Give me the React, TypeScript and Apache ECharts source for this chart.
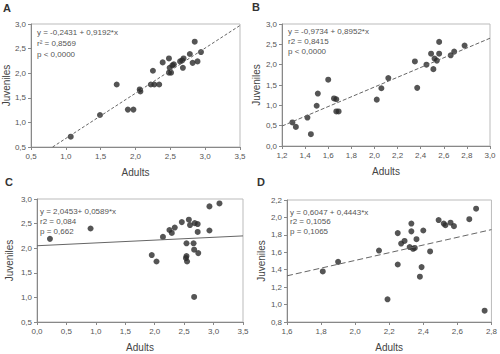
import React, { useEffect, useRef } from "react";
import * as echarts from "echarts";

// Panel A
const adultsA = [1.07, 1.49, 1.73, 1.89, 1.97, 2.06, 2.07, 2.22, 2.27, 2.25, 2.34, 2.39, 2.48, 2.48, 2.51, 2.49, 2.53, 2.55, 2.64, 2.67, 2.69, 2.68, 2.78, 2.82, 2.85, 2.89, 2.94];
const juvA = [0.71, 1.15, 1.77, 1.26, 1.26, 1.67, 1.63, 1.77, 1.77, 2.05, 1.77, 2.22, 2.30, 2.01, 2.01, 2.11, 2.16, 2.18, 2.24, 2.26, 2.30, 2.11, 2.39, 2.21, 2.64, 2.24, 2.43];
const fitA = [[0.81, 0.5], [3.5, 2.97]];
const textA = ["y = -0,2431 + 0,9192*x", "r² = 0,8569", "p < 0,0000"];

// Panel B
const adultsB = [1.29, 1.32, 1.42, 1.45, 1.50, 1.51, 1.60, 1.65, 1.67, 1.67, 1.69, 2.02, 2.06, 2.12, 2.35, 2.37, 2.45, 2.49, 2.51, 2.52, 2.54, 2.56, 2.56, 2.66, 2.69, 2.78];
const juvB = [0.58, 0.47, 0.70, 0.29, 0.99, 1.29, 1.63, 1.17, 1.15, 0.85, 0.85, 1.14, 1.42, 1.67, 2.08, 1.43, 2.00, 2.27, 1.89, 2.15, 2.10, 2.56, 2.27, 2.23, 2.32, 2.47];
const fitB = [[1.2, 0.49], [3.0, 2.65]];
const textB = ["y = -0,9734 + 0,8952*x", "r2 = 0,8415", "p < 0,0000"];

// Panel C
const adultsC = [0.22, 0.91, 1.95, 2.03, 2.14, 2.25, 2.29, 2.34, 2.46, 2.54, 2.54, 2.53, 2.55, 2.58, 2.60, 2.66, 2.67, 2.68, 2.73, 2.73, 2.74, 2.67, 2.93, 2.93, 3.10];
const juvC = [2.19, 2.40, 1.86, 1.73, 2.23, 2.37, 2.31, 2.42, 2.53, 2.10, 1.84, 1.80, 1.73, 2.58, 2.47, 2.10, 1.97, 2.51, 2.49, 2.33, 1.90, 1.01, 2.85, 2.36, 2.91];
const fitC = [[0.0, 2.05], [3.5, 2.25]];
const textC = ["y = 2,0453+ 0,0589*x", "r2 = 0,084", "p = 0,662"];

// Panel D
const adultsD = [1.81, 1.90, 2.14, 2.19, 2.25, 2.25, 2.27, 2.29, 2.32, 2.33, 2.33, 2.34, 2.35, 2.36, 2.38, 2.39, 2.40, 2.44, 2.49, 2.52, 2.53, 2.56, 2.58, 2.67, 2.71, 2.76];
const juvD = [1.38, 1.49, 1.62, 1.06, 1.82, 1.46, 1.70, 1.73, 1.66, 1.84, 1.93, 1.64, 1.65, 1.75, 1.32, 1.43, 1.85, 1.61, 1.97, 1.93, 1.91, 1.94, 1.90, 1.98, 2.10, 0.93];
const fitD = [[1.6, 1.33], [2.8, 1.86]];
const textD = ["y = 0,6047 + 0,4443*x", "r2 = 0,1056", "p = 0,1065"];

const panelLetters = ["A", "B", "C", "D"];
const xTitle = "Adults";
const yTitle = "Juveniles";

const zip = (a: number[], b: number[]) => a.map((v, i) => [v, b[i]]);
const fmt = (v: number) => v.toFixed(1).replace(".", ",");

export default function App() {
  const ref = useRef<HTMLDivElement>(null);
  useEffect(() => {
    if (!ref.current) return;
    const chart = echarts.init(ref.current, undefined, { renderer: "svg" });
    const grids = [
      { left: 31, top: 24, width: 209, height: 123 },
      { left: 282, top: 24, width: 208, height: 122 },
      { left: 37, top: 199, width: 206, height: 123 },
      { left: 287, top: 200, width: 205, height: 122 },
    ];
    const xr = [
      { min: 0.5, max: 3.5, interval: 0.5 },
      { min: 1.2, max: 3.0, interval: 0.2 },
      { min: 0.0, max: 3.5, interval: 0.5 },
      { min: 1.6, max: 2.8, interval: 0.2 },
    ];
    const yr = [
      { min: 0.5, max: 3.0, interval: 0.5 },
      { min: 0.0, max: 3.0, interval: 0.5 },
      { min: 0.5, max: 3.0, interval: 0.5 },
      { min: 0.8, max: 2.2, interval: 0.2 },
    ];
    const yGaps = [18, 19, 23, 21];
    const labelStyle = { color: "#555", fontSize: 8, fontFamily: "Liberation Sans, Arial, sans-serif" };
    const nameStyle = { color: "#444", fontSize: 10, fontFamily: "Liberation Sans, Arial, sans-serif" };
    const axisLine = { show: true, lineStyle: { color: "#888", width: 1 } };
    const axisTick = { show: true, length: 3, lineStyle: { color: "#888" } };

    const xAxis = xr.map((r, i) => ({
      type: "value",
      gridIndex: i,
      ...r,
      name: xTitle,
      nameLocation: "middle",
      nameGap: 20,
      nameTextStyle: nameStyle,
      axisLine,
      axisTick,
      splitLine: { show: false },
      axisLabel: { ...labelStyle, margin: 5, formatter: fmt },
    }));
    const yAxis = yr.map((r, i) => ({
      type: "value",
      gridIndex: i,
      ...r,
      name: yTitle,
      nameLocation: "middle",
      nameGap: yGaps[i],
      nameTextStyle: nameStyle,
      axisLine,
      axisTick,
      splitLine: { show: false },
      axisLabel: { ...labelStyle, margin: 5, formatter: fmt },
    }));

    const pts = [zip(adultsA, juvA), zip(adultsB, juvB), zip(adultsC, juvC), zip(adultsD, juvD)];
    const fits = [fitA, fitB, fitC, fitD];
    const dashes: any[] = [[3, 2], [4, 2], "solid", [6, 3]];
    const series: any[] = [];
    fits.forEach((f, i) => {
      series.push({
        type: "line",
        xAxisIndex: i,
        yAxisIndex: i,
        data: f,
        symbol: "none",
        silent: true,
        lineStyle: { color: "#666", width: 1, type: dashes[i] },
      });
    });
    pts.forEach((p, i) => {
      series.push({
        type: "scatter",
        xAxisIndex: i,
        yAxisIndex: i,
        data: p,
        symbol: "circle",
        symbolSize: 6,
        itemStyle: { color: "#2b2b2b" },
      });
    });

    const texts = [textA, textB, textC, textD];
    const textPos = [
      [37, 28, 11],
      [288, 27, 10],
      [40, 207, 10],
      [290, 208, 9.5],
    ];
    const graphic: any[] = [];
    texts.forEach((t, i) => {
      t.forEach((line, j) => {
        graphic.push({
          type: "text",
          left: textPos[i][0],
          top: textPos[i][1] + j * textPos[i][2],
          style: { text: line, fill: "#555", fontSize: 8, fontFamily: "Liberation Sans, Arial, sans-serif" },
        });
      });
    });
    const letterPos = [[3, 2], [252, 1], [5, 176], [257, 176]];
    panelLetters.forEach((l, i) => {
      graphic.push({
        type: "text",
        left: letterPos[i][0],
        top: letterPos[i][1],
        style: { text: l, fill: "#333", fontSize: 11, fontWeight: "bold", fontFamily: "Liberation Sans, Arial, sans-serif" },
      });
    });

    chart.setOption({
      animation: false,
      backgroundColor: "#fff",
      grid: grids.map((g) => ({ ...g, show: true, borderColor: "#bbb", borderWidth: 1, backgroundColor: "transparent" })),
      xAxis,
      yAxis,
      series,
      graphic,
    });
    return () => chart.dispose();
  }, []);
  return <div ref={ref} style={{ width: 500, height: 354, position: "absolute", left: 0, top: 0 }} />;
}
